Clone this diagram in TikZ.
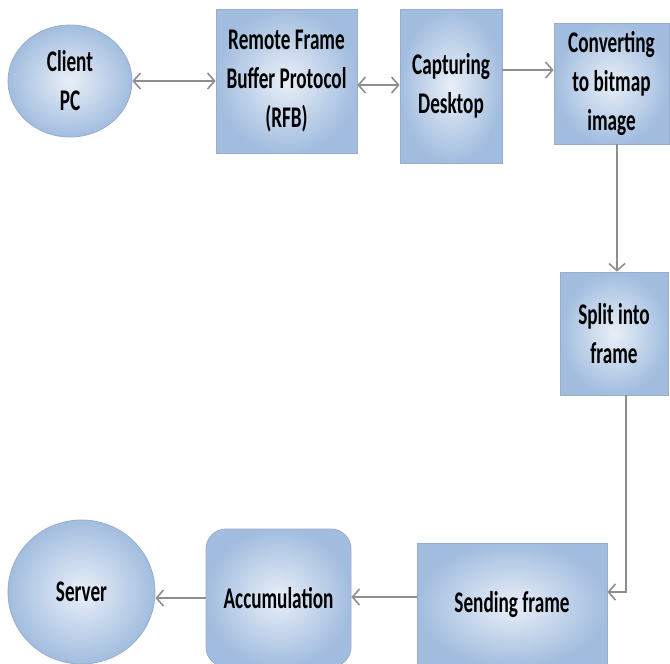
\documentclass[tikz,border=0pt]{standalone}
\usepackage{fontspec}
\setmainfont{Carlito}[FakeStretch=0.64]
\usetikzlibrary{arrows.meta,shapes.geometric,calc}
\definecolor{boxedge}{HTML}{9AADC8}
\definecolor{boxin}{HTML}{E9EFF8}
\definecolor{boxout}{HTML}{A2BDDF}
\definecolor{arrowgray}{HTML}{8E8E8E}
\tikzset{
  shapebase/.style={draw=boxedge, line width=0.8pt, inner sep=0pt, align=center,
    shading=radial, inner color=boxin, outer color=boxout,
    font=\fontsize{30}{39}\selectfont\bfseries, text=black},
  stepbox/.style={shapebase, rectangle},
  roundbox/.style={shapebase, rectangle, rounded corners=20pt},
  ovalbox/.style={shapebase, ellipse},
  conn/.style={draw=arrowgray, line width=2pt, -{Straight Barb[length=7pt,width=16pt,line width=1.6pt]}},
  dconn/.style={conn, {Straight Barb[length=7pt,width=16pt,line width=1.6pt]}-{Straight Barb[length=7pt,width=16pt,line width=1.6pt]}},
  vconn/.style={conn, line width=1.6pt}
}
\begin{document}
\begin{tikzpicture}[x=1pt,y=-1pt]
\useasboundingbox[fill=white] (0,0) rectangle (670,664);
\node[ovalbox, minimum width=124pt, minimum height=112pt] (client) at (70,81) {Client\\PC};
\node[stepbox, minimum width=141pt, minimum height=144pt] (rfb) at (286.5,81) {Remote Frame\\Buffer Protocol\\(RFB)};
\node[stepbox, minimum width=102pt, minimum height=154pt] (cap) at (451,86) {Capturing\\Desktop};
\node[stepbox, minimum width=115pt, minimum height=121pt] (conv) at (611.5,83.5) {Converting\\to bitmap\\image};
\node[stepbox, minimum width=108pt, minimum height=123pt] (split) at (614,333.5) {Split into\\frame};
\node[stepbox, minimum width=190pt, minimum height=124pt] (send) at (512,605) {Sending frame};
\node[roundbox, minimum width=145pt, minimum height=138pt] (acc) at (278.5,598) {Accumulation};
\node[ovalbox, minimum width=147pt, minimum height=144pt] (server) at (81.5,592) {Server};

\draw[dconn] (client.east) -- (client.east -| rfb.west);
\draw[dconn] ([yshift=-4pt]rfb.east) -- ([yshift=-4pt]rfb.east -| cap.west);
\draw[conn] ([yshift=16pt]cap.east) -- ([yshift=16pt]cap.east -| conv.west);
\draw[vconn] ([xshift=5.5pt]conv.south) -- ([xshift=5.5pt]conv.south |- split.north);
\draw[vconn] ([xshift=12pt]split.south) |- ([yshift=13pt]send.east);
\draw[conn] ([yshift=8pt]send.west) -- ([yshift=8pt]send.west -| acc.east);
\draw[conn] (acc.west) -- (acc.west -| server.east);
\end{tikzpicture}
\end{document}
